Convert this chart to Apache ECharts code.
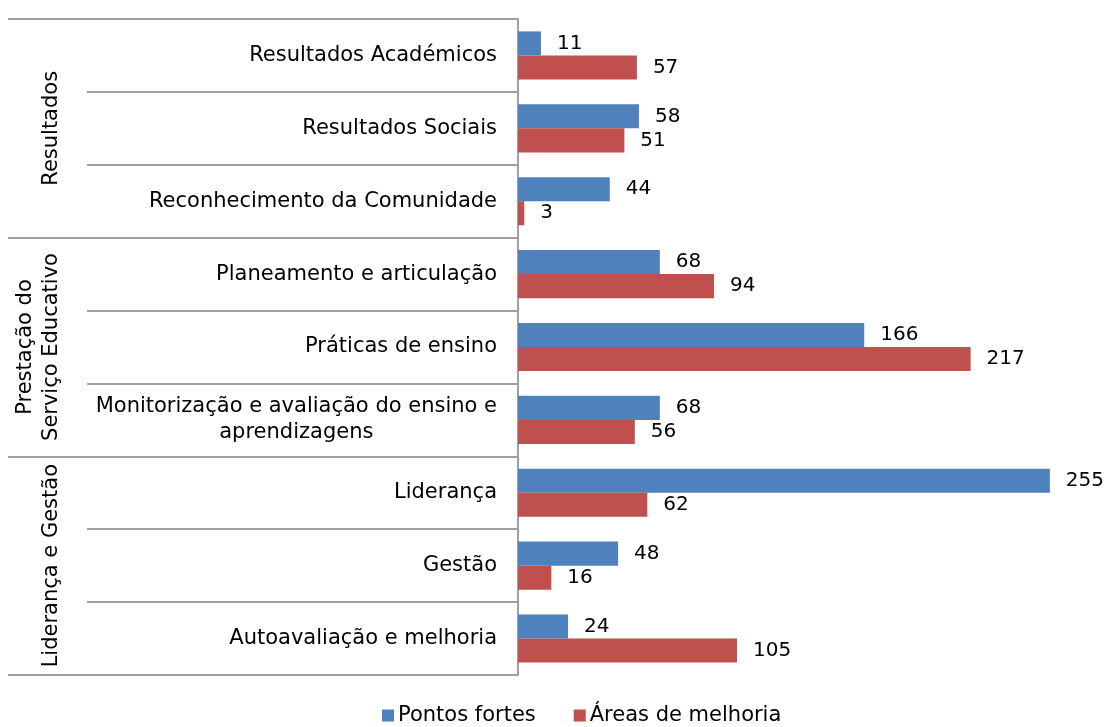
<!DOCTYPE html>
<html>
<head>
<meta charset="utf-8">
<script src="https://cdn.jsdelivr.net/npm/echarts@6/dist/echarts.min.js"></script>
<style>
html, body { margin: 0; padding: 0; background: #fff; }
#main { width: 1105px; height: 727px; }
</style>
</head>
<body>
<div id="main"></div>
<script>
// categorias (de cima para baixo)
var categorias = [
	'Resultados Académicos',
	'Resultados Sociais',
	'Reconhecimento da Comunidade',
	'Planeamento e articulação',
	'Práticas de ensino',
	'Monitorização e avaliação do ensino e\naprendizagens',
	'Liderança',
	'Gestão',
	'Autoavaliação e melhoria'
];
var grupos = ['Resultados', 'Prestação do\nServiço Educativo', 'Liderança e Gestão'];
var pontosFortes = [11, 58, 44, 68, 166, 68, 255, 48, 24];
var areasMelhoria = [57, 51, 3, 94, 217, 56, 62, 16, 105];

var fonte = 'DejaVu Sans';
var cinza = '#a0a0a0';

var myChart = echarts.init(document.getElementById('main'));

var rotulo = {
	show: true,
	position: 'right',
	distance: 16,
	color: '#000',
	fontSize: 20,
	fontFamily: fonte
};

var option = {
	animation: false,
	grid: { left: 518, top: 19, bottom: 52, right: 3, containLabel: false },
	legend: {
		left: 377,
		top: 700,
		itemWidth: 12,
		itemHeight: 12,
		itemGap: 38,
		icon: 'rect',
		textStyle: { fontSize: 21, fontFamily: fonte, color: '#000', padding: [0, 0, 0, -1] },
		data: ['Pontos fortes', 'Áreas de melhoria']
	},
	xAxis: {
		type: 'value',
		min: 0,
		max: 280,
		show: false,
		splitLine: { show: false }
	},
	yAxis: [{
		type: 'category',
		inverse: true,
		data: categorias,
		axisLine: { show: true, lineStyle: { color: cinza, width: 2 } },
		axisTick: { show: true, length: 431, lineStyle: { color: cinza, width: 2 } },
		axisLabel: {
			interval: 0,
			margin: 21,
			color: '#000',
			fontSize: 21,
			fontFamily: fonte,
			lineHeight: 26,
			formatter: function(v) {
				if (v.indexOf('\n') < 0) return v;
				return v.split('\n').map(function(l) { return '{c|' + l + '}'; }).join('\n');
			},
			rich: { c: { align: 'center', fontSize: 21, fontFamily: fonte, color: '#000', lineHeight: 26 } }
		}
	}, {
		type: 'category',
		inverse: true,
		position: 'left',
		data: grupos,
		axisLine: { show: false },
		axisTick: { show: true, length: 510, lineStyle: { color: cinza, width: 2 } },
		axisLabel: {
			interval: 0,
			hideOverlap: false,
			rotate: 90,
			margin: 453,
			color: '#000',
			fontSize: 21,
			fontFamily: fonte,
			lineHeight: 26
		}
	}],
	series: [{
		name: 'Pontos fortes',
		type: 'bar',
		yAxisIndex: 0,
		data: pontosFortes,
		barGap: '0%',
		barCategoryGap: '34%',
		itemStyle: { color: '#4f81bd' },
		label: rotulo
	}, {
		name: 'Áreas de melhoria',
		type: 'bar',
		yAxisIndex: 0,
		data: areasMelhoria,
		barGap: '0%',
		barCategoryGap: '34%',
		itemStyle: { color: '#c0504d' },
		label: rotulo
	}]
};

myChart.setOption(option);
</script>
</body>
</html>
